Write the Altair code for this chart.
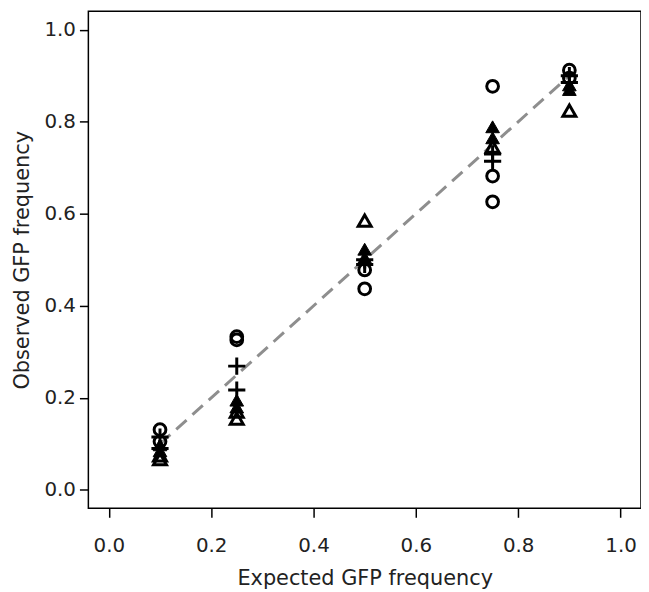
import altair as alt
import pandas as pd

# Expected GFP frequencies (x positions)
expected_levels = [0.1, 0.25, 0.5, 0.75, 0.9]

# Observed values per marker type, one list per expected level
open_circle = [[0.131, 0.105], [0.333, 0.326], [0.437, 0.478], [0.877, 0.682, 0.626], [0.912, 0.895]]
plus_mark = [[0.115, 0.090], [0.269, 0.217], [0.500, 0.490], [0.714, 0.730], [0.900, 0.885]]
filled_tri = [[0.098, 0.085], [0.195, 0.180], [0.523, 0.505], [0.789, 0.765], [0.880, 0.870]]
open_tri = [[0.075, 0.067], [0.170, 0.155], [0.585], [0.746], [0.824]]

# Reference line (observed = expected)
line_x = [0.1, 0.9]
line_y = [0.1, 0.9]


def to_df(series):
    rows = []
    for xv, vals in zip(expected_levels, series):
        for v in vals:
            rows.append({"expected": xv, "observed": v})
    return pd.DataFrame(rows)


xscale = alt.Scale(domain=[-0.04, 1.04], nice=False, zero=False)
yscale = alt.Scale(domain=[-0.04, 1.04], nice=False, zero=False)
ticks = [0.0, 0.2, 0.4, 0.6, 0.8, 1.0]

xenc = alt.X("expected:Q", scale=xscale,
             axis=alt.Axis(values=ticks, format=".1f", title="Expected GFP frequency"))
yenc = alt.Y("observed:Q", scale=yscale,
             axis=alt.Axis(values=ticks, format=".1f", title="Observed GFP frequency"))

line_df = pd.DataFrame({"expected": line_x, "observed": line_y})
ref_line = alt.Chart(line_df).mark_line(
    color="#8e8e8e", strokeWidth=3, strokeDash=[14, 8]
).encode(x=xenc, y=yenc)

circles = alt.Chart(to_df(open_circle)).mark_point(
    shape="circle", size=140, filled=False, stroke="black", strokeWidth=3, opacity=1
).encode(x=xenc, y=yenc)

pluses = alt.Chart(to_df(plus_mark)).mark_point(
    shape="M-1,0L1,0M0,-1L0,1", size=300, filled=False, stroke="black", strokeWidth=3, opacity=1
).encode(x=xenc, y=yenc)

ftri = alt.Chart(to_df(filled_tri)).mark_point(
    shape="triangle-up", size=190, filled=True, fill="black", stroke="black", strokeWidth=1, opacity=1
).encode(x=xenc, y=yenc)

otri = alt.Chart(to_df(open_tri)).mark_point(
    shape="triangle-up", size=170, filled=False, stroke="black", strokeWidth=3, opacity=1
).encode(x=xenc, y=yenc)

chart = alt.layer(ref_line, circles, pluses, ftri, otri).properties(
    width=557, height=501,
    autosize=alt.AutoSizeParams(type="none"),
    padding={"left": 81, "top": 1, "right": 0, "bottom": 80},
).configure_view(
    stroke="black", strokeWidth=1.5
).configure_axis(
    grid=False, domain=False,
    tickColor="black", tickWidth=1.5, tickSize=9,
    labelFont="DejaVu Sans", labelFontSize=20, labelColor="#222",
    titleFont="DejaVu Sans", titleFontSize=21, titleFontWeight="normal", titleColor="#222",
).configure_axisX(
    labelPadding=18, titlePadding=13
).configure_axisY(
    labelPadding=4, titlePadding=12, labelAngle=0
)

chart.save("out.html", embed_options={"renderer": "svg", "actions": False})
